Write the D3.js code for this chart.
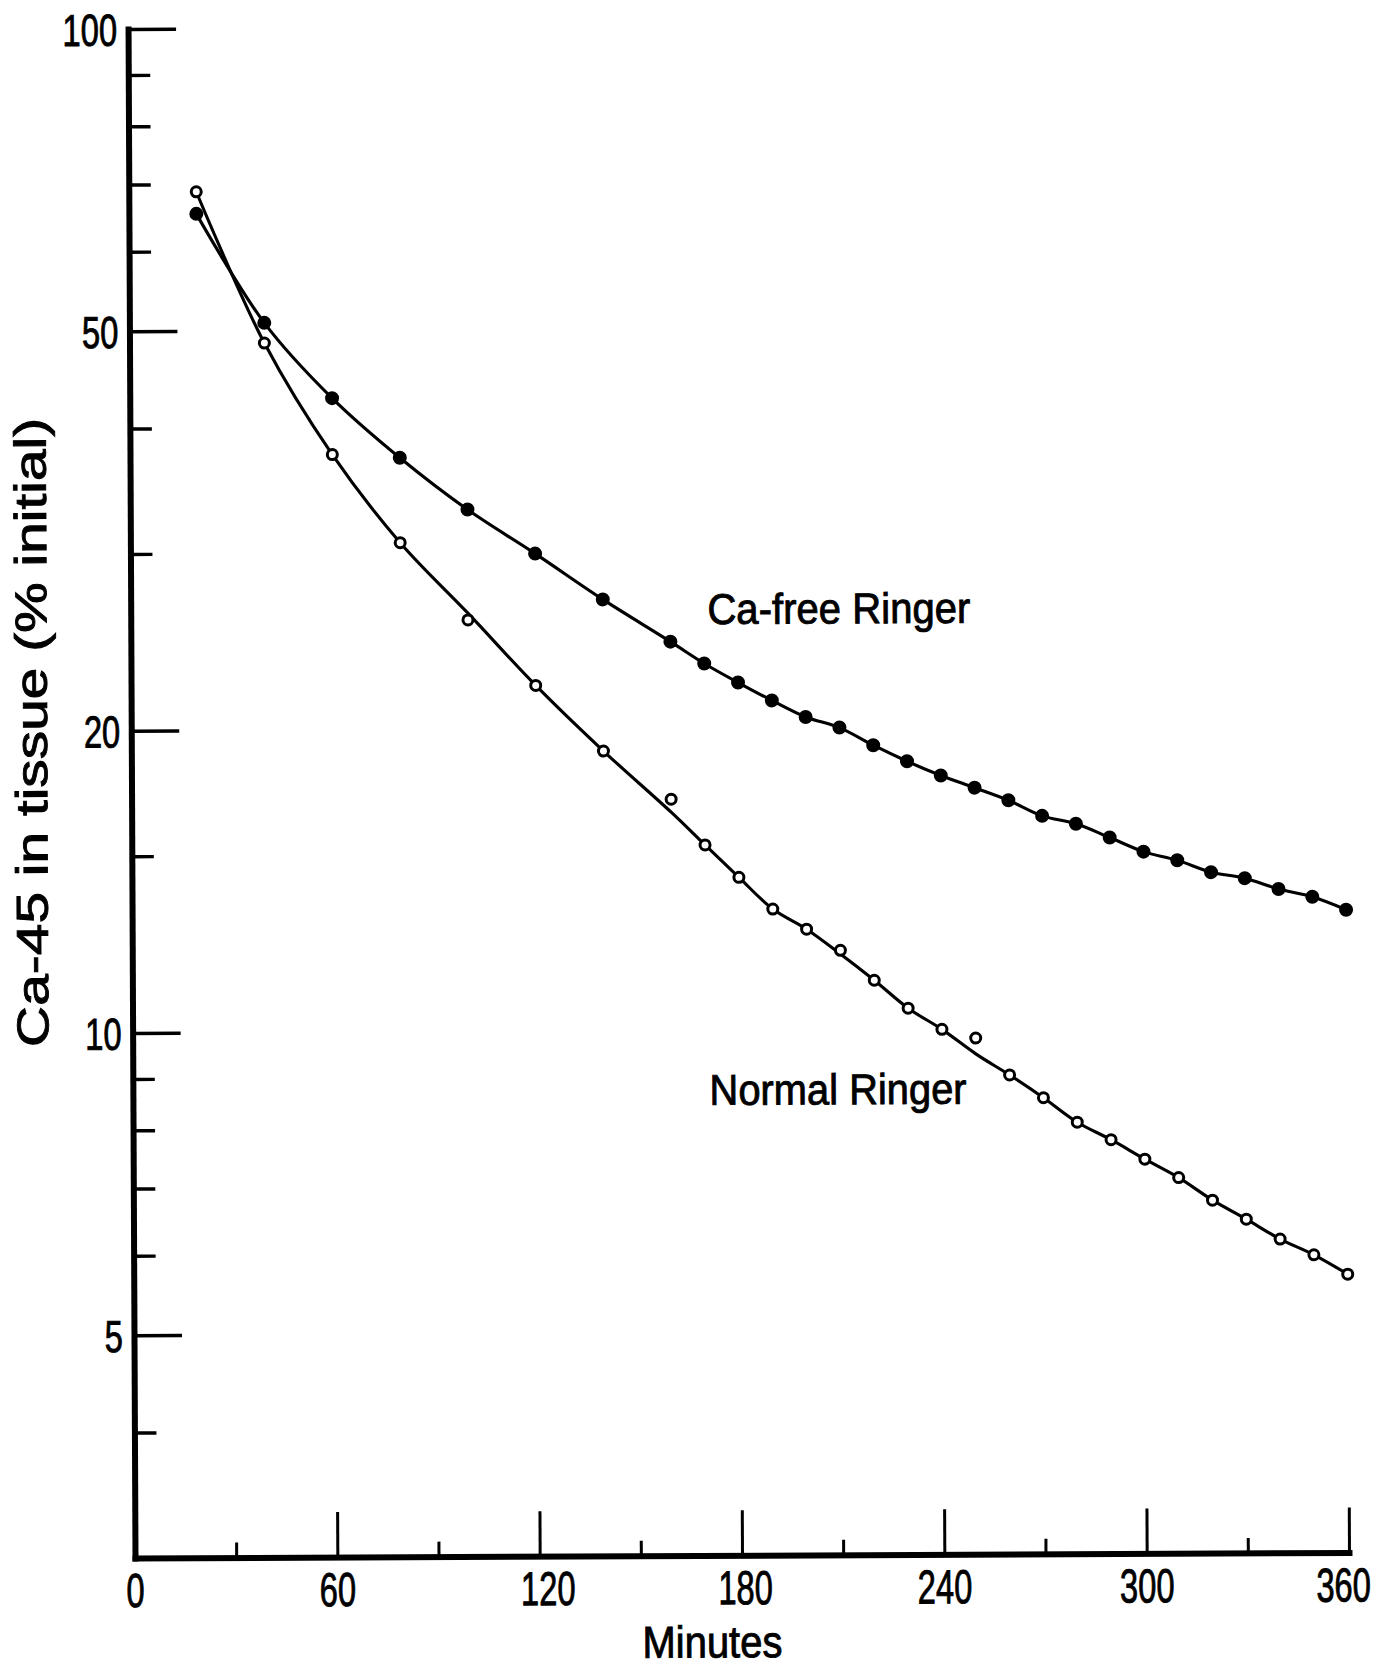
<!DOCTYPE html>
<html>
<head>
<meta charset="utf-8">
<script src="https://cdn.jsdelivr.net/npm/d3@7"></script>
<style>
  html, body { margin: 0; padding: 0; background: #fff; }
  text { font-family: "Liberation Sans Narrow", "Liberation Sans", Arial, sans-serif; fill: #000;
         stroke: #000; stroke-width: 0.9px; }
</style>
</head>
<body>
<svg id="chart" width="1387" height="1667"></svg>
<script>
// Sampling times (minutes)
const minutes = [20, 40, 60, 80, 100, 120, 140, 160, 170, 180, 190, 200, 210, 220,
                 230, 240, 250, 260, 270, 280, 290, 300, 310, 320, 330, 340, 350, 360];

// Ca-45 remaining in tissue, % of initial
const caFree = [65.4, 50.9, 42.8, 37.3, 33.1, 29.9, 26.9, 24.4, 23.2, 22.2, 21.3, 20.5, 20.0, 19.2,
                18.5, 17.9, 17.4, 16.9, 16.3, 16.0, 15.5, 15.0, 14.7, 14.3, 14.1, 13.75, 13.5, 13.1];
const normal = [68.8, 48.6, 37.6, 30.7, 25.7, 22.1, 19.0, 17.0, 15.3, 14.2, 13.2, 12.6, 12.0, 11.2,
                10.5, 10.0, 9.8, 9.0, 8.54, 8.07, 7.75, 7.41, 7.10, 6.74, 6.45, 6.16, 5.94, 5.68];
// Smoothed curve drawn through the normal-Ringer points
const normalFit = [68.8, 48.6, 37.6, 30.7, 26.1, 22.1, 19.0, 16.5, 15.3, 14.2, 13.2, 12.6, 11.9, 11.2,
                   10.5, 10.0, 9.45, 9.0, 8.54, 8.07, 7.75, 7.41, 7.10, 6.74, 6.45, 6.16, 5.94, 5.68];

// Axis ticks
const xTicks = [0, 60, 120, 180, 240, 300, 360];
const xMinorTicks = [30, 90, 150, 210, 270, 330];
const yTicks = [100, 50, 20, 10, 5];
const yMinorTicks = [90, 80, 70, 60, 40, 30, 15, 9, 8, 7, 6, 4];

// Series labels placed in data coordinates [minutes, percent]
const seriesLabels = [
  { text: "Ca-free Ringer", at: [171, 25.4], width: 263 },
  { text: "Normal Ringer",  at: [171, 8.43], width: 257 }
];

const W = 1387, H = 1667;
const x0 = 135, x1 = 1349, yBottom = 1558, yTop = 29;

const x = d3.scaleLinear().domain([0, 360]).range([x0, x1]);
const y = d3.scaleLog().domain([3, 100]).range([yBottom, yTop]);

const svg = d3.select("#chart");
svg.append("rect").attr("width", W).attr("height", H).attr("fill", "#fff");

// the whole figure sits at a slight tilt
const g = svg.append("g").attr("transform", `rotate(-0.26, ${x0}, ${yBottom})`);

const digitW = 18.2;
const fitDigits = sel => sel.attr("textLength", function () { return digitW * this.textContent.length; })
                           .attr("lengthAdjust", "spacingAndGlyphs");

// ---- Y axis (log) ----
const yMinorAxis = d3.axisLeft(y).tickValues(yMinorTicks).tickFormat("").tickSizeInner(-22).tickSizeOuter(0);
const gyMinor = g.append("g").attr("transform", `translate(${x0},0)`).call(yMinorAxis);
gyMinor.select(".domain").remove();
gyMinor.selectAll(".tick line").attr("stroke", "#000").attr("stroke-width", 3.4);

const yMajorAxis = d3.axisLeft(y).tickValues(yTicks).tickFormat(d3.format("d"))
  .tickSizeInner(-48).tickSizeOuter(0).tickPadding(11);
const gy = g.append("g").attr("transform", `translate(${x0},0)`).call(yMajorAxis);
gy.select(".domain").attr("stroke", "#000").attr("stroke-width", 6).attr("stroke-linecap", "square");
gy.selectAll(".tick line").attr("stroke", "#000").attr("stroke-width", 3.6);
gy.selectAll(".tick text").attr("font-size", 44.7).attr("dy", "0.36em").call(fitDigits);

// ---- X axis ----
const xMinorAxis = d3.axisBottom(x).tickValues(xMinorTicks).tickFormat("").tickSizeInner(-15).tickSizeOuter(0);
const gxMinor = g.append("g").attr("transform", `translate(0,${yBottom})`).call(xMinorAxis);
gxMinor.select(".domain").remove();
gxMinor.selectAll(".tick line").attr("stroke", "#000").attr("stroke-width", 3);

// small hand-set shifts of a few tick labels relative to their ticks
const xLabelShift = { 120: 8, 180: 3, 360: -6 };

const xMajorAxis = d3.axisBottom(x).tickValues(xTicks).tickFormat(d3.format("d"))
  .tickSizeInner(-45).tickSizeOuter(0);
const gx = g.append("g").attr("transform", `translate(0,${yBottom})`).call(xMajorAxis);
gx.select(".domain").attr("stroke", "#000").attr("stroke-width", 6).attr("stroke-linecap", "square");
gx.selectAll(".tick line").attr("stroke", "#000").attr("stroke-width", 3);
// condensed numerals: squeeze each label horizontally to its set width
gx.selectAll(".tick text")
  .attr("font-size", 47.5).attr("x", 0).attr("y", 0).attr("dy", "0")
  .attr("transform", function (d) {
    const sx = (digitW * this.textContent.length) / this.getComputedTextLength();
    return `translate(${xLabelShift[d] || 0},49) scale(${sx},1)`;
  });

// ---- Axis titles ----
g.append("text")
  .attr("transform", "translate(50.7,732) rotate(-90)")
  .attr("text-anchor", "middle")
  .attr("font-size", 44.7)
  .attr("textLength", 629).attr("lengthAdjust", "spacingAndGlyphs")
  .text("Ca-45 in tissue (% initial)");

g.append("text")
  .attr("x", 712).attr("y", 1660)
  .attr("text-anchor", "middle")
  .attr("font-size", 44.7)
  .attr("textLength", 140).attr("lengthAdjust", "spacingAndGlyphs")
  .text("Minutes");

// ---- Curves ----
const line = d3.line()
  .x(d => x(d[0]))
  .y(d => y(d[1]))
  .curve(d3.curveCatmullRom.alpha(0.5));

g.append("path")
  .datum(minutes.map((t, i) => [t, caFree[i]]))
  .attr("d", line).attr("fill", "none").attr("stroke", "#000").attr("stroke-width", 3.1);

g.append("path")
  .datum(minutes.map((t, i) => [t, normalFit[i]]))
  .attr("d", line).attr("fill", "none").attr("stroke", "#000").attr("stroke-width", 3.1);

// ---- Points ----
g.append("g").selectAll("circle")
  .data(minutes.map((t, i) => [t, caFree[i]]))
  .join("circle")
  .attr("cx", d => x(d[0])).attr("cy", d => y(d[1]))
  .attr("r", 7).attr("fill", "#000");

g.append("g").selectAll("circle")
  .data(minutes.map((t, i) => [t, normal[i]]))
  .join("circle")
  .attr("cx", d => x(d[0])).attr("cy", d => y(d[1]))
  .attr("r", 5).attr("fill", "#fff").attr("stroke", "#000").attr("stroke-width", 3);

// ---- Series labels ----
g.append("g").selectAll("text")
  .data(seriesLabels)
  .join("text")
  .attr("x", d => x(d.at[0])).attr("y", d => y(d.at[1]))
  .attr("font-size", 43)
  .attr("textLength", d => d.width).attr("lengthAdjust", "spacingAndGlyphs")
  .text(d => d.text);
</script>
</body>
</html>
